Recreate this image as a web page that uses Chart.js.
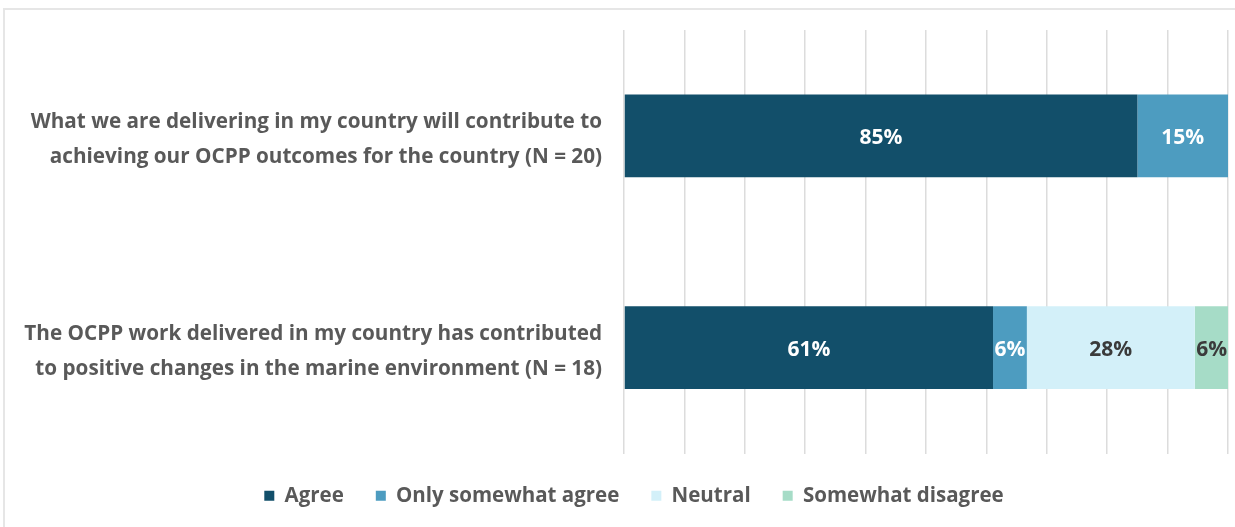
<!DOCTYPE html>
<html>
<head>
<meta charset="utf-8">
<script src="https://cdn.jsdelivr.net/npm/chart.js@4"></script>
<style>
  html, body { margin: 0; padding: 0; background: #fff; overflow: hidden; }
  #frame {
    position: absolute; left: 3px; top: 8px; width: 1232px; height: 519px;
    border-top: 2px solid #e6e6e6; border-left: 2px solid #e6e6e6;
  }
  #wrap { position: absolute; left: 0; top: 0; width: 1235px; height: 516px; }
</style>
</head>
<body>
<div id="frame"></div>
<div id="wrap"><canvas id="surveyChart"></canvas></div>
<script>
// Survey statements (wrapped onto two lines)
const statements = [
    ['What we are delivering in my country will contribute to', 'achieving our OCPP outcomes for the country (N = 20)'],
    ['The OCPP work delivered in my country has contributed', 'to positive changes in the marine environment (N = 18)']
];

// Share of responses per statement (%)
const agree = [85, 61.1];
const somewhatAgree = [15, 5.6];
const neutral = [0, 27.8];
const somewhatDisagree = [0, 5.6];

const seriesNames = ['Agree', 'Only somewhat agree', 'Neutral', 'Somewhat disagree'];
const seriesColors = ['#124f6a', '#4d9cc0', '#d3f0f9', '#a6dcc7'];
const labelColors = ['#ffffff', '#ffffff', '#3b3b3b', '#3b3b3b'];

const fontFamily = "'Open Sans', 'Noto Sans', sans-serif";

// Percent labels drawn in the middle of each segment
const segmentLabels = {
    id: 'segmentLabels',
    afterDatasetsDraw(chart) {
        const ctx = chart.ctx;
        ctx.save();
        ctx.font = 'bold 21px ' + fontFamily;
        ctx.textAlign = 'center';
        ctx.textBaseline = 'middle';
        chart.data.datasets.forEach((ds, i) => {
            chart.getDatasetMeta(i).data.forEach((bar, j) => {
                const v = ds.data[j];
                if (!v) return;
                const p = bar.getProps(['x', 'y', 'base'], true);
                ctx.fillStyle = labelColors[i];
                ctx.fillText(Math.round(v) + '%', (p.x + p.base) / 2, p.y + 2);
            });
        });
        ctx.restore();
    }
};

// Nudge the legend a little to the right of the canvas centre
const legendShift = {
    id: 'legendShift',
    afterLayout(chart) {
        chart.legend.left += 20;
        chart.legend.right += 20;
    }
};

const series = [agree, somewhatAgree, neutral, somewhatDisagree];

new Chart(document.getElementById('surveyChart'), {
    type: 'bar',
    data: {
        labels: statements,
        datasets: series.map((values, i) => ({
            label: seriesNames[i],
            data: values,
            backgroundColor: seriesColors[i],
            borderWidth: 0,
            barPercentage: 0.39,
            categoryPercentage: 1
        }))
    },
    options: {
        indexAxis: 'y',
        responsive: true,
        maintainAspectRatio: false,
        animation: false,
        layout: {
            padding: { left: 0, right: 7, top: 30, bottom: 0 }
        },
        plugins: {
            tooltip: { enabled: false },
            legend: {
                position: 'bottom',
                labels: {
                    color: '#595959',
                    font: { family: fontFamily, size: 20.5, weight: 'bold' },
                    boxWidth: 10,
                    boxHeight: 10,
                    padding: 32
                }
            }
        },
        scales: {
            x: {
                stacked: true,
                min: 0,
                max: 100,
                afterFit(scale) { scale.height = 0; },
                ticks: { display: false, stepSize: 10 },
                border: { display: false },
                grid: { color: '#dcdcdc', lineWidth: 1.5, drawTicks: false }
            },
            y: {
                stacked: true,
                afterFit(scale) {
                    scale.width = 624;
                    scale.paddingTop = 0;
                    scale.paddingBottom = 0;
                },
                ticks: {
                    color: '#595959',
                    font: { family: fontFamily, size: 20.7, weight: 'bold', lineHeight: 1.7 },
                    padding: 22,
                    labelOffset: 4
                },
                border: { display: false },
                grid: { display: false, drawTicks: false }
            }
        }
    },
    plugins: [segmentLabels, legendShift]
});
</script>
</body>
</html>
